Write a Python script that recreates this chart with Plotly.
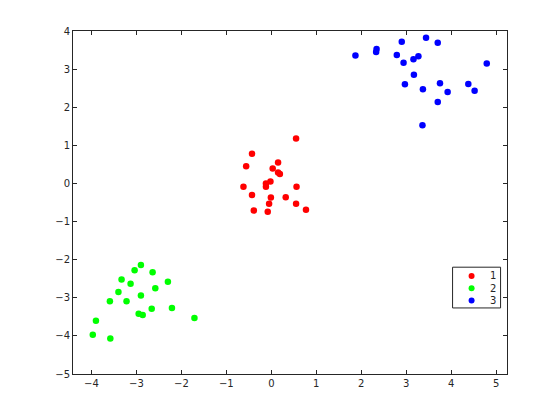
import plotly.graph_objects as go

red_x = [0.55, -0.43, -0.56, 0.15, 0.03, 0.15, 0.19, -0.12, -0.02, -0.12, -0.62, 0.56, -0.43, 0.32, -0.01, -0.05, 0.55, -0.39, -0.08, 0.77]
red_y = [1.18, 0.78, 0.45, 0.55, 0.39, 0.29, 0.25, 0.00, 0.05, -0.09, -0.09, -0.09, -0.30, -0.36, -0.37, -0.53, -0.53, -0.71, -0.74, -0.69]

green_x = [-2.90, -3.04, -2.64, -3.33, -3.13, -2.30, -2.58, -3.40, -2.90, -3.59, -3.22, -2.95, -2.86, -2.66, -2.21, -1.71, -3.90, -3.97, -3.58]
green_y = [-2.14, -2.28, -2.33, -2.52, -2.63, -2.58, -2.75, -2.85, -2.94, -3.09, -3.09, -3.42, -3.45, -3.29, -3.27, -3.53, -3.60, -3.97, -4.07]

blue_x = [1.87, 2.34, 2.33, 2.90, 3.44, 3.70, 2.79, 2.94, 3.16, 3.27, 4.79, 3.17, 2.97, 3.37, 3.75, 3.92, 4.38, 4.52, 3.70, 3.36]
blue_y = [3.36, 3.53, 3.45, 3.72, 3.82, 3.69, 3.37, 3.17, 3.26, 3.34, 3.15, 2.85, 2.60, 2.47, 2.63, 2.40, 2.61, 2.43, 2.14, 1.53]

names = ["1", "2", "3"]
colors = ["#ff0000", "#00ff00", "#0000ff"]
series = list(zip(names, [red_x, green_x, blue_x], [red_y, green_y, blue_y], colors))

x_ticks = [-4, -3, -2, -1, 0, 1, 2, 3, 4, 5]
y_ticks = [4, 3, 2, 1, 0, -1, -2, -3, -4, -5]

fig = go.Figure()
for name, xs, ys, col in series:
    fig.add_trace(go.Scatter(x=xs, y=ys, mode="markers", name=name, showlegend=False,
                             marker=dict(color=col, size=6.5, symbol="circle", line=dict(width=0))))

axis_common = dict(showgrid=False, zeroline=False, showline=True, linecolor="#262626", linewidth=1,
                   mirror="ticks", ticks="inside", ticklen=4, tickcolor="#262626", automargin=False,
                   tickfont=dict(family="DejaVu Sans", size=10, color="#262626"))

fig.update_xaxes(range=[-4.41, 5.24], tickvals=x_ticks, **axis_common)
fig.update_yaxes(range=[-5, 4], tickvals=y_ticks, **axis_common)

# Legend box (drawn as decoration in paper coordinates)
fig.add_shape(type="rect", xref="paper", yref="paper", x0=0.8746, x1=0.9852, y0=0.1926, y1=0.3114,
              line=dict(color="#262626", width=1), fillcolor="white", layer="above")
row_y = [0.2860, 0.2501, 0.2140]
for name, col, ry in zip(names, colors, row_y):
    fig.add_shape(type="circle", xref="paper", yref="paper", xsizemode="pixel", ysizemode="pixel",
                  xanchor=0.9184, yanchor=ry, x0=-3, x1=3, y0=-3, y1=3,
                  fillcolor=col, line=dict(width=0), layer="above")
    fig.add_annotation(x=0.9668, y=ry, xref="paper", yref="paper", text=name, showarrow=False,
                       xanchor="center", yanchor="middle",
                       font=dict(family="DejaVu Sans", size=10, color="#262626"))

fig.update_layout(
    width=552, height=412,
    margin=dict(l=65, r=53.3, t=23, b=46),
    paper_bgcolor="white", plot_bgcolor="white",
    showlegend=False,
)

fig.write_html("out.html")
